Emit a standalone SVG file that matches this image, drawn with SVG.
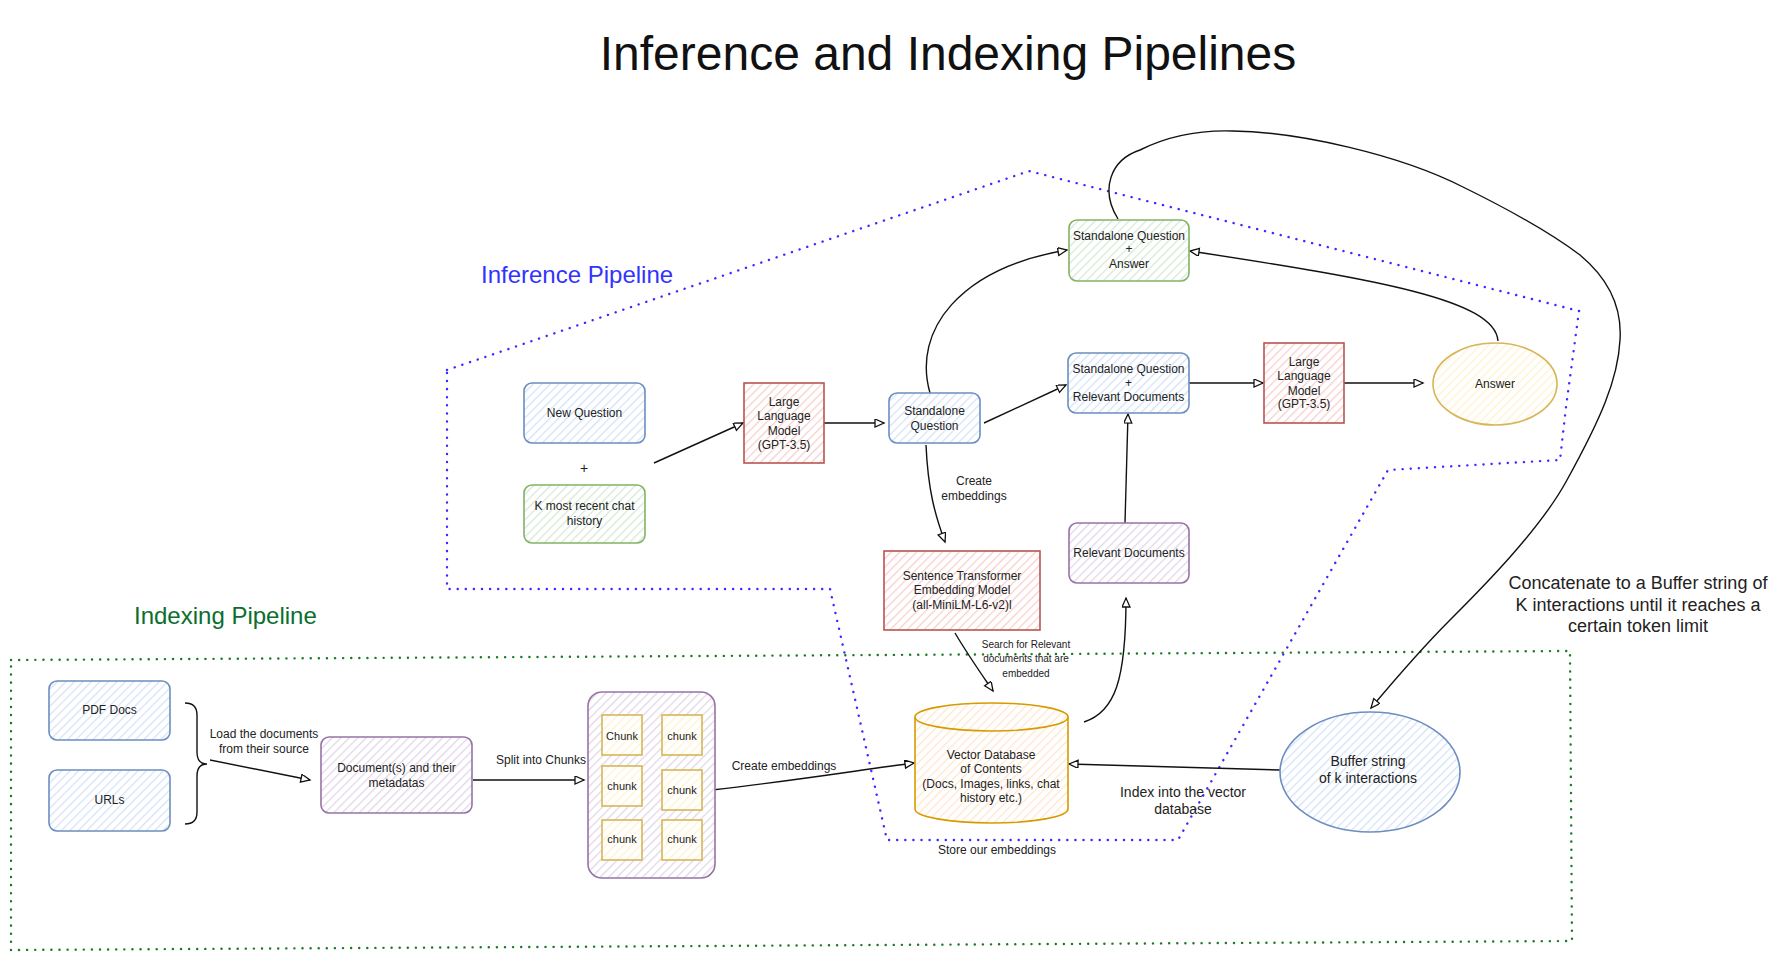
<svg xmlns="http://www.w3.org/2000/svg" width="1784" height="964" viewBox="0 0 1784 964">
<defs>
<style>
text{font-family:"Liberation Sans",Arial,sans-serif;fill:#222;text-anchor:middle}
.n{font-size:12px}
.s{font-size:10px}
.m{font-size:14px}
.k{font-size:11px}
.box{stroke-width:1.6}
.blue{stroke:#6c8ebf;fill:url(#hb)}
.green{stroke:#82b366;fill:url(#hg)}
.red{stroke:#b85450;fill:url(#hr)}
.purple{stroke:#9673a6;fill:url(#hp)}
.yellow{stroke:#d6b656;fill:url(#hy)}
.orange{stroke:#d79b00;fill:url(#ho)}
.c{fill:none;stroke:#111;stroke-width:1.4;marker-end:url(#arr)}
.bdot{fill:none;stroke:#3a2bff;stroke-width:2.4;stroke-linecap:round;stroke-dasharray:0.1 8}
.gdot{fill:none;stroke:#1e7a1e;stroke-width:2.4;stroke-linecap:round;stroke-dasharray:0.1 8}
</style>
<pattern id="hb" patternUnits="userSpaceOnUse" width="6" height="6" patternTransform="rotate(45)"><rect width="6" height="6" fill="#fff"/><line x1="0" y1="0" x2="0" y2="6" stroke="#d3e2fa" stroke-width="2.5"/></pattern>
<pattern id="hg" patternUnits="userSpaceOnUse" width="6" height="6" patternTransform="rotate(45)"><rect width="6" height="6" fill="#fff"/><line x1="0" y1="0" x2="0" y2="6" stroke="#d5e8d4" stroke-width="2.5"/></pattern>
<pattern id="hr" patternUnits="userSpaceOnUse" width="6" height="6" patternTransform="rotate(45)"><rect width="6" height="6" fill="#fff"/><line x1="0" y1="0" x2="0" y2="6" stroke="#f8cecc" stroke-width="2.5"/></pattern>
<pattern id="hp" patternUnits="userSpaceOnUse" width="6" height="6" patternTransform="rotate(45)"><rect width="6" height="6" fill="#fff"/><line x1="0" y1="0" x2="0" y2="6" stroke="#e1d5e7" stroke-width="2.5"/></pattern>
<pattern id="hy" patternUnits="userSpaceOnUse" width="6" height="6" patternTransform="rotate(45)"><rect width="6" height="6" fill="#fff"/><line x1="0" y1="0" x2="0" y2="6" stroke="#fff2cc" stroke-width="2.5"/></pattern>
<pattern id="ho" patternUnits="userSpaceOnUse" width="6" height="6" patternTransform="rotate(45)"><rect width="6" height="6" fill="#fff"/><line x1="0" y1="0" x2="0" y2="6" stroke="#ffe6cc" stroke-width="2.5"/></pattern>
<marker id="arr" markerWidth="12" markerHeight="10" refX="10" refY="4" orient="auto" markerUnits="userSpaceOnUse"><path d="M1,0 L10,4 L1,8 Z" fill="#fff" stroke="#111" stroke-width="1.3"/></marker>
</defs>
<rect width="1784" height="964" fill="#fff"/>

<g id="inference-container">
<path class="bdot" d="M447,370 L1029,171 L1579,311 L1566,407 L1560,460 L1388,470 L1178,840 L887,840 L830,589 L447,589 Z"/>
<text x="481" y="283" style="font-size:24px;fill:#3333ff;text-anchor:start">Inference Pipeline</text>
</g>
<g id="indexing-container">
<path class="gdot" d="M11,660 L1570,651 L1572,941 L11,950 Z"/>
<text x="134" y="624" style="font-size:24px;fill:#0b6e2e;text-anchor:start">Indexing Pipeline</text>
</g>

<text x="948" y="70" style="font-size:48px;fill:#111">Inference and Indexing Pipelines</text>

<g id="connectors">
<path class="c" d="M654,463 L743,423"/>
<path class="c" d="M824,423 L884,423"/>
<path class="c" d="M984,423 L1066,385"/>
<path class="c" d="M930,393 C912,330 960,268 1067,250"/>
<path class="c" d="M1189,383 L1263,383"/>
<path class="c" d="M1344,383 L1423,383"/>
<path class="c" d="M1498,341 C1495,300 1380,280 1190,251"/>
<path class="c" d="M926,445 C928,490 935,515 945,542"/>
<path class="c" d="M1125,523 L1128,414"/>
<path class="c" d="M1084,722 C1115,712 1126,680 1126,598"/>
<path class="c" d="M955,633 C968,655 980,672 993,691"/>
<path class="c" d="M1118,219 C1100,190 1110,160 1140,150 C1170,135 1200,130 1233,131 C1300,132 1400,155 1463,187 C1520,215 1560,240 1580,255 C1610,280 1622,310 1620,340 C1618,380 1600,420 1567,480 C1540,530 1480,590 1450,620 C1420,650 1392,683 1371,708"/>
<path class="c" d="M1280,770 L1069,764"/>
<path class="c" d="M712,790 C800,780 860,770 914,763"/>
<path class="c" d="M210,760 L310,780"/>
<path class="c" d="M473,780 L584,780"/>
<path d="M185,703 Q197,703 197,715 L197,752 Q197,764 207,764 Q197,764 197,776 L197,812 Q197,824 185,824" fill="none" stroke="#111" stroke-width="1.4"/>
<text class="n" x="974" y="485">Create</text>
<text class="n" x="974" y="500">embeddings</text>
<text class="s" x="1026" y="648">Search for Relevant</text>
<text class="s" x="1026" y="662">documents that are</text>
<text class="s" x="1026" y="677">embedded</text>
<text class="n" x="264" y="738">Load the documents</text>
<text class="n" x="264" y="753">from their source</text>
<text class="n" x="541" y="764">Split into Chunks</text>
<text class="n" x="784" y="770">Create embeddings</text>
<text class="m" x="1183" y="797">Index into the vector</text>
<text class="m" x="1183" y="814">database</text>
<text class="n" x="997" y="854">Store our embeddings</text>
<text x="1638" y="589" style="font-size:18px">Concatenate to a Buffer string of</text>
<text x="1638" y="611" style="font-size:18px">K interactions until it reaches a</text>
<text x="1638" y="632" style="font-size:18px">certain token limit</text>
</g>

<g id="new-question"><rect class="box blue" x="524" y="383" width="121" height="60" rx="8"/><text class="n" x="584.5" y="417">New Question</text></g>
<g id="plus"><text x="584" y="473" style="font-size:14px">+</text></g>
<g id="chat-history"><rect class="box green" x="524" y="485" width="121" height="58" rx="8"/><text class="n" x="584.5" y="510">K most recent chat</text><text class="n" x="584.5" y="525">history</text></g>
<g id="llm1"><rect class="box red" x="744" y="383" width="80" height="80"/><text class="n" x="784" y="406">Large</text><text class="n" x="784" y="420">Language</text><text class="n" x="784" y="435">Model</text><text class="n" x="784" y="449">(GPT-3.5)</text></g>
<g id="standalone-question"><rect class="box blue" x="889" y="393" width="91" height="50" rx="8"/><text class="n" x="934.5" y="415">Standalone</text><text class="n" x="934.5" y="430">Question</text></g>
<g id="sq-answer"><rect class="box green" x="1069" y="220" width="120" height="61" rx="8"/><text class="n" x="1129" y="240">Standalone Question</text><text class="n" x="1129" y="253">+</text><text class="n" x="1129" y="268">Answer</text></g>
<g id="sq-reldocs"><rect class="box blue" x="1068" y="353" width="121" height="60" rx="8"/><text class="n" x="1128.5" y="373">Standalone Question</text><text class="n" x="1128.5" y="387">+</text><text class="n" x="1128.5" y="401">Relevant Documents</text></g>
<g id="llm2"><rect class="box red" x="1264" y="343" width="80" height="80"/><text class="n" x="1304" y="366">Large</text><text class="n" x="1304" y="380">Language</text><text class="n" x="1304" y="395">Model</text><text class="n" x="1304" y="408">(GPT-3.5)</text></g>
<g id="answer"><ellipse class="box yellow" cx="1495" cy="384" rx="62" ry="41"/><text class="n" x="1495" y="388">Answer</text></g>
<g id="sentence-transformer"><rect class="box red" x="884" y="551" width="156" height="79"/><text class="n" x="962" y="580">Sentence Transformer</text><text class="n" x="962" y="594">Embedding Model</text><text class="n" x="962" y="609">(all-MiniLM-L6-v2)l</text></g>
<g id="relevant-documents"><rect class="box purple" x="1069" y="523" width="120" height="60" rx="8"/><text class="n" x="1129" y="557">Relevant Documents</text></g>
<g id="pdf-docs"><rect class="box blue" x="49" y="681" width="121" height="59" rx="8"/><text class="n" x="109.5" y="714">PDF Docs</text></g>
<g id="urls"><rect class="box blue" x="49" y="770" width="121" height="61" rx="8"/><text class="n" x="109.5" y="804">URLs</text></g>
<g id="documents"><rect class="box purple" x="321" y="737" width="151" height="76" rx="8"/><text class="n" x="396.5" y="772">Document(s) and their</text><text class="n" x="396.5" y="787">metadatas</text></g>
<g id="chunks">
<rect class="box purple" x="588" y="692" width="127" height="186" rx="14"/>
<rect class="box yellow" x="602" y="715" width="40" height="40"/><text class="k" x="622" y="740">Chunk</text>
<rect class="box yellow" x="662" y="715" width="40" height="40"/><text class="k" x="682" y="740">chunk</text>
<rect class="box yellow" x="602" y="766" width="40" height="40"/><text class="k" x="622" y="790">chunk</text>
<rect class="box yellow" x="662" y="770" width="40" height="40"/><text class="k" x="682" y="794">chunk</text>
<rect class="box yellow" x="602" y="820" width="40" height="40"/><text class="k" x="622" y="843">chunk</text>
<rect class="box yellow" x="662" y="820" width="40" height="40"/><text class="k" x="682" y="843">chunk</text>
</g>
<g id="vector-db">
<path class="box orange" d="M915,717 A76.5,14 0 0 1 1068,717 L1068,809 A76.5,14 0 0 1 915,809 Z"/>
<path d="M915,717 A76.5,14 0 0 0 1068,717" fill="none" stroke="#d79b00" stroke-width="1.6"/>
<text class="n" x="991" y="759">Vector Database</text><text class="n" x="991" y="773">of Contents</text><text class="n" x="991" y="788">(Docs, Images, links, chat</text><text class="n" x="991" y="802">history etc.)</text>
</g>
<g id="buffer"><ellipse class="box blue" cx="1370" cy="772" rx="90" ry="60"/><text class="m" x="1368" y="766">Buffer string</text><text class="m" x="1368" y="783">of k interactions</text></g>
</svg>
